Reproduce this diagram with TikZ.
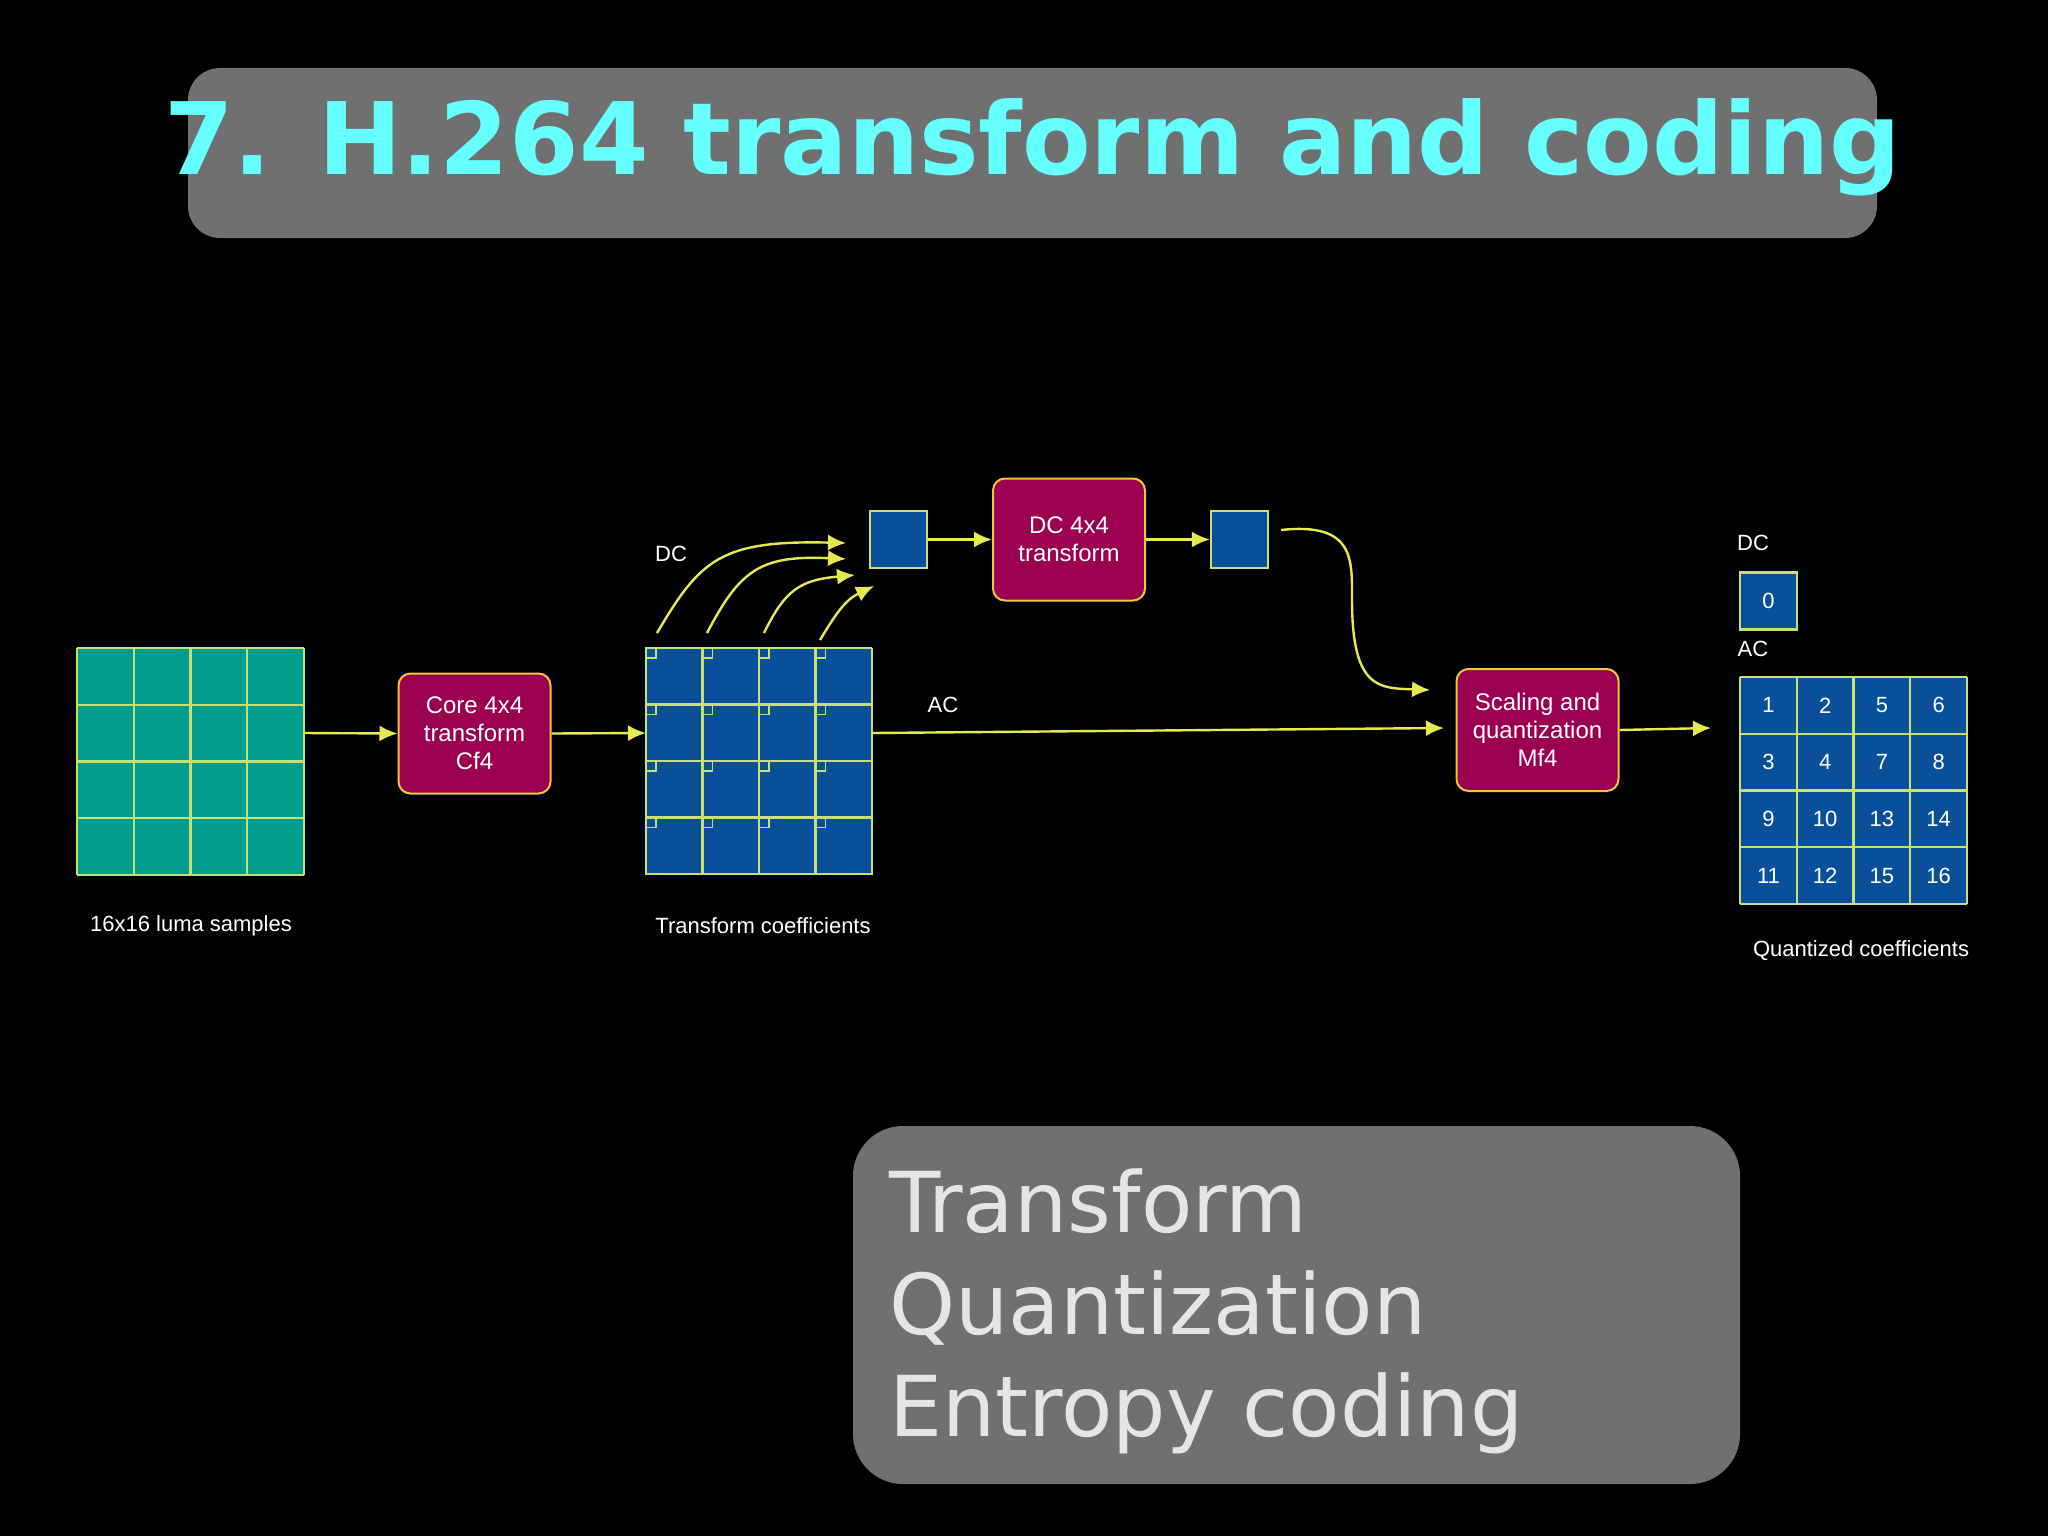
\documentclass[tikz,border=0pt]{standalone}
\usepackage{fontspec}
\setmainfont{Liberation Sans}
\newfontfamily\ttl{DejaVu Sans}
\usetikzlibrary{arrows.meta}
\definecolor{ylw}{HTML}{E8E850}
\definecolor{grn}{HTML}{C8E070}
\definecolor{teal}{HTML}{009C8C}
\definecolor{blu}{HTML}{0A4F9A}
\definecolor{mag}{HTML}{9C0050}
\definecolor{cyn}{HTML}{66FFFF}
\definecolor{gbox}{HTML}{707070}
\begin{document}
\begin{tikzpicture}[x=0.5pt,y=-0.5pt,
  arr/.style={draw=ylw,line width=1.2pt,-{Latex[length=9pt,width=8pt]}},
  proc/.style={draw=ylw!70!orange,line width=1pt,fill=mag,rounded corners=6pt,text=white,font=\fontsize{12}{14}\selectfont,align=center},
  lbl/.style={text=white,font=\fontsize{11}{13}\selectfont},
  cell/.style={draw=grn,line width=1.2pt}]
\fill[black] (0,0) rectangle (2048,1536);
\useasboundingbox (0,0) rectangle (2048,1536);
% title
\node[fill=gbox,rounded corners=16pt,minimum width=844.5pt,minimum height=85pt] (tb) at (1032.5,153) {};
\node[text=cyn,font=\ttl\bfseries\fontsize{50}{56}\selectfont] (tt) at (1032.5,147) {7. H.264 transform and coding};
% bottom box
\node[fill=gbox,rounded corners=25pt,minimum width=443.5pt,minimum height=179pt] (bb) at (1296.5,1305) {};
\node[text=black!10,font=\ttl\fontsize{42}{48}\selectfont,align=left,anchor=north west,inner sep=0pt] (bt) at (889,1168) {Transform\\[3pt]Quantization\\[3pt]Entropy coding};
% luma grid
\fill[teal] (77,648) rectangle (304,875);
\foreach \i in {0,...,4}{
  \draw[cell] (77+56.75*\i,648) -- (77+56.75*\i,875);
  \draw[cell] (77,648+56.75*\i) -- (304,648+56.75*\i);}
\coordinate (luma) at (304,733);
\node[lbl] (l1) at (191,926) {16x16 luma samples};
% core
\node[proc,minimum width=76pt,minimum height=60pt] (core) at (474.5,733.5) {Core 4x4\\transform\\Cf4};
% coefficient grid
\fill[blu] (646,648) rectangle (872,875);
\foreach \i in {0,...,3}{\foreach \j in {0,...,3}{
  \draw[grn,line width=0.8pt] (646+56.5*\i,648+56.5*\j) rectangle ++(10,10);}}
\foreach \i in {0,...,4}{
  \draw[cell] (646+56.5*\i,648) -- (646+56.5*\i,875);
  \draw[cell] (646,648+56.5*\i) -- (872,648+56.5*\i);}
\coordinate (gin) at (646,733);
\coordinate (gout) at (872,733);
\node[lbl] (l2) at (763,926) {Transform coefficients};
\node[lbl] (dcl) at (671,554) {DC};
\node[lbl] (acl) at (943,705) {AC};
% DC squares
\node[cell,fill=blu,minimum width=28.5pt,minimum height=28.5pt,inner sep=0pt] (d1) at (898.5,539.5) {};
\node[proc,minimum width=76pt,minimum height=61pt] (dct) at (1069,539.5) {DC 4x4\\transform};
\node[cell,fill=blu,minimum width=28.5pt,minimum height=28.5pt,inner sep=0pt] (d2) at (1239.5,539.5) {};
% scaling
\node[proc,minimum width=81pt,minimum height=61pt] (sq) at (1537.5,730) {Scaling and\\quantization\\Mf4};
% quantized
\node[cell,fill=blu,minimum width=28.5pt,minimum height=28.5pt,inner sep=0pt,text=white,font=\fontsize{11}{13}\selectfont] (q0) at (1768.5,601) {0};
\node[lbl] (dcr) at (1753,543) {DC};
\node[lbl] (acr) at (1753,649) {AC};
\fill[blu] (1740,677) rectangle (1967,904);
\foreach \i in {0,...,4}{
  \draw[cell] (1740+56.75*\i,677) -- (1740+56.75*\i,904);
  \draw[cell] (1740,677+56.75*\i) -- (1967,677+56.75*\i);}
\foreach \n [count=\k from 0] in {1,2,5,6,3,4,7,8,9,10,13,14,11,12,15,16}{
  \pgfmathtruncatemacro\cx{mod(\k,4)}\pgfmathtruncatemacro\cy{div(\k,4)}
  \node[text=white,font=\fontsize{11}{13}\selectfont] (q\n) at (1768.4+56.75*\cx,705.4+56.75*\cy) {\n};}
\coordinate (qin) at (1711,728);
\node[lbl] (l3) at (1861,951) {Quantized coefficients};
% arrows
\draw[arr] (luma) -- (core.west);
\draw[arr] (core.east) -- (gin);
\draw[arr] (gout) -- (1444,728);
\draw[arr] (sq.east) -- (qin);
\draw[arr] (d1.east) -- (dct.west);
\draw[arr] (dct.east) -- (d2.west);
\draw[arr] (1281,530) .. controls (1355,522) and (1352,560) .. (1352,600) .. controls (1352,690) and (1380,688) .. (1430,690);
\draw[arr] (657,633) .. controls (700,560) and (720,540) .. (846,543);
\draw[arr] (707,633) .. controls (740,570) and (760,555) .. (846,559);
\draw[arr] (764,633) .. controls (785,590) and (800,580) .. (855,575);
\draw[arr] (820,640) .. controls (835,615) and (845,600) .. (874,586);
\end{tikzpicture}
\end{document}
